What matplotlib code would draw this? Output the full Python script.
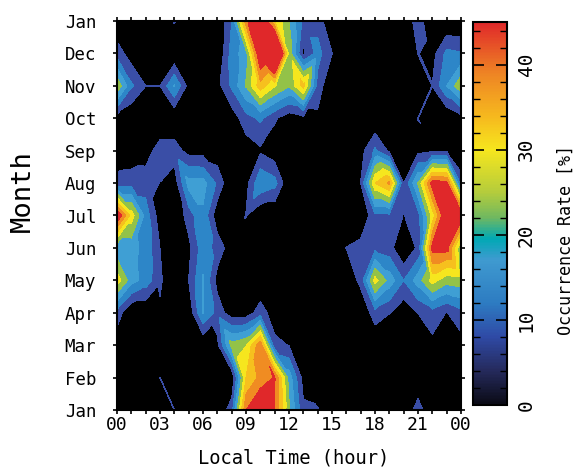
#!/usr/bin/env python3
"""Occurrence rate by month and local time, filled contours with a colour bar."""

import matplotlib
matplotlib.use("Agg")
import matplotlib.pyplot as plt
from matplotlib.colors import LinearSegmentedColormap, Normalize
from matplotlib.cm import ScalarMappable
from matplotlib.ticker import MultipleLocator
from matplotlib.tri import Triangulation
import numpy as np

# ---------------------------------------------------------------------------
# Data (one value per local hour, 00 to 24)
# ---------------------------------------------------------------------------

HOURS = list(range(25))
MONTHS = ["Jan", "Feb", "Mar", "Apr", "May", "Jun", "Jul", "Aug", "Sep", "Oct", "Nov", "Dec", "Jan"]
X_TICKS = [0, 3, 6, 9, 12, 15, 18, 21, 24]
X_LABELS = ["00", "03", "06", "09", "12", "15", "18", "21", "00"]

jan = [0, 0, 0, 0, 5.1, 0, 0, 0, 8, 40, 47, 40, 21, 6, 5.5, 0, 0, 0, 0, 0, 0, 7.8, 0, 0, 0]
feb = [0, 0, 0, 5.1, 0, 0, 0, 0, 0, 30, 36.5, 40.5, 18, 3, 0, 0, 0, 0, 0, 0, 0, 0, 0, 0, 0]
mar = [1.5, 0, 0, 0, 0, 0, 0, 3.65, 22, 24.8, 39, 6.5, 4.8, 0, 0, 0, 0, 0, 0, 0, 0, 0, 3.5, 0, 3]
apr = [8, 0, 0, 4, 0, 1, 15.3, 8, 2, 2, 7.7, 2, 0, 0, 0, 0, 0, 0, 8, 5.3, 1.5, 5.1, 8, 4.8, 8]
may = [28, 17, 13, 6, 0, 5.1, 15.5, 3, 0, 0, 0, 0, 0, 0, 0, 0, 0, 6.7, 27, 18, 10, 17.5, 27, 22, 23]
jun = [16, 16.5, 13.5, 5, 0, 3.5, 13, 8, 2, 0, 0, 0, 0, 0, 0, 0, 5.2, 7, 8.5, 7, 0, 6, 42, 42, 20]
jul = [46, 28, 13, 2, 0, 7.5, 14, 1.5, 0, 5.3, 0, 0, 0, 0, 0, 0, 0, 0, 9, 9, 4.8, 8, 27, 47, 45]
aug = [7.7, 8, 7.5, 4.9, 2, 17, 17, 9, 0, 3, 14.5, 12, 0, 0, 0, 0, 0, 5.1, 30, 36, 5.1, 20.5, 43, 42, 7.7]
sep = [0, 1, 2.6, 7.6, 7.6, 3, 2.8, 1.5, 0, 2, 4.2, 1.5, 0, 0, 0, 0, 0, 3, 11, 4, 2, 3.5, 4.5, 4.5, 0]
oct_ = [3, 0, 0, 0, 0, 0, 0, 0, 2, 8, 11, 5.8, 1.8, 3.6, 3.9, 0, 0, 0, 0, 0, 0, 5.1, 0, 0, 3]
nov = [24, 11, 5.1, 5.1, 15.5, 3, 0, 3, 11, 20.5, 33, 25.5, 20.5, 32, 8, 0, 0, 0, 0, 0, 0, 0, 5.2, 15, 24]
dec = [8, 2, 0, 0, 0, 0, 0, 0, 12, 18, 47, 65, 23, 4, 12, 5.2, 0, 0, 0, 0, 0, 5.2, 3, 11.5, 10.5]
jan_end = [0, 0, 0, 0, 5.5, 0, 0, 0, 10, 38, 50, 30, 20, 8, 8, 0, 0, 0, 0, 0, 0, 8, 0, 0, 0]

# ---------------------------------------------------------------------------
# Colours
# ---------------------------------------------------------------------------

LEVELS = [0, 5, 10, 15, 20, 25, 30, 35, 40, 70]
BAND_COLORS = ["#000000", "#3a4ea6", "#2d86c8", "#3f9fd4", "#93c248",
               "#f6e61e", "#f6c01e", "#f08c22", "#e0282a"]

BAR_STOPS = [
    (0.0, "#0a0a14"), (4.0, "#252a5c"), (8.0, "#2f4aa6"), (12.0, "#2d7cc2"),
    (17.0, "#3f9ad0"), (19.5, "#00a8b4"), (22.0, "#70b860"), (25.0, "#b4cc3c"),
    (30.0, "#f6e61e"), (34.0, "#f6b81e"), (39.0, "#ee8424"), (45.0, "#e0282a"),
]
VMAX = 45.0
bar_cmap = LinearSegmentedColormap.from_list("rate", [(v / VMAX, c) for v, c in BAR_STOPS])

FONT = "DejaVu Sans Mono"
W, H = 575, 469


def ax_rect(left, top, right, bottom):
    return [left / W, 1 - bottom / H, (right - left) / W, (bottom - top) / H]


def grid_triangles(z):
    """Split each cell on one diagonal: ridges stay joined, lone corners get straight edges."""
    nrow, ncol = z.shape
    tris = []
    for i in range(nrow - 1):
        for j in range(ncol - 1):
            a, b = i * ncol + j, i * ncol + j + 1
            c, d = (i + 1) * ncol + j, (i + 1) * ncol + j + 1
            corners = np.array([z[i, j], z[i, j + 1], z[i + 1, j], z[i + 1, j + 1]])
            if min(corners[0], corners[3]) > max(corners[1], corners[2]):
                on_ad = True
            elif min(corners[1], corners[2]) > max(corners[0], corners[3]):
                on_ad = False
            else:
                # the corner furthest from the mean stays off the diagonal
                on_ad = np.argmax(np.abs(corners - corners.mean())) in (1, 2)
            if on_ad:
                tris += [[a, b, d], [a, d, c]]
            else:
                tris += [[a, b, c], [b, d, c]]
    return tris


def main():
    rate = np.array([jan, feb, mar, apr, may, jun, jul, aug, sep, oct_, nov, dec, jan_end])
    months = np.arange(len(MONTHS))
    xx, yy = np.meshgrid(HOURS, months)
    tri = Triangulation(xx.ravel(), yy.ravel(), grid_triangles(rate))

    fig = plt.figure(figsize=(W / 100, H / 100), dpi=100)
    ax = fig.add_axes(ax_rect(117, 21, 461, 410))
    ax.tricontourf(tri, rate.ravel(), levels=LEVELS, colors=BAND_COLORS)
    ax.set_facecolor("black")

    ax.set_xlim(0, 24)
    ax.set_ylim(0, 12)
    ax.set_xticks(X_TICKS)
    ax.set_xticklabels(X_LABELS, family=FONT, fontsize=13)
    ax.xaxis.set_minor_locator(MultipleLocator(1))
    ax.set_yticks(months)
    ax.set_yticklabels(MONTHS, family=FONT, fontsize=12.5)
    ax.tick_params(axis="both", which="both", top=True, right=True, direction="out",
                   length=3, width=1.2)
    ax.tick_params(axis="x", pad=1)
    ax.tick_params(axis="y", pad=12)
    for spine in ax.spines.values():
        spine.set_linewidth(1.5)

    fig.text(294 / W, 1 - 458 / H, "Local Time (hour)", family=FONT, fontsize=13.5,
             ha="center", va="center")
    fig.text(23 / W, 1 - 191 / H, "Month", family=FONT, fontsize=19.5, rotation=90,
             ha="center", va="center")

    # Colour bar
    cax = fig.add_axes(ax_rect(473, 22, 507, 405))
    sm = ScalarMappable(norm=Normalize(0, VMAX), cmap=bar_cmap)
    cbar = fig.colorbar(sm, cax=cax, ticks=[0, 10, 20, 30, 40])
    cbar.ax.yaxis.set_minor_locator(MultipleLocator(2))
    cbar.ax.tick_params(which="major", direction="in", left=True, right=True, length=8, width=1.2, pad=7)
    cbar.ax.tick_params(which="minor", direction="in", left=True, right=True, length=5, width=1.0)
    cbar.outline.set_linewidth(1.5)
    for lab in cbar.ax.get_yticklabels():
        lab.set_rotation(90)
        lab.set_va("center")
        lab.set_family(FONT)
        lab.set_fontsize(14)

    fig.text(566 / W, 1 - 240 / H, "Occurrence Rate [%]", family=FONT, fontsize=12,
             rotation=90, ha="center", va="center")

    fig.savefig("out.png", dpi=100)
    plt.close(fig)


if __name__ == "__main__":
    main()
